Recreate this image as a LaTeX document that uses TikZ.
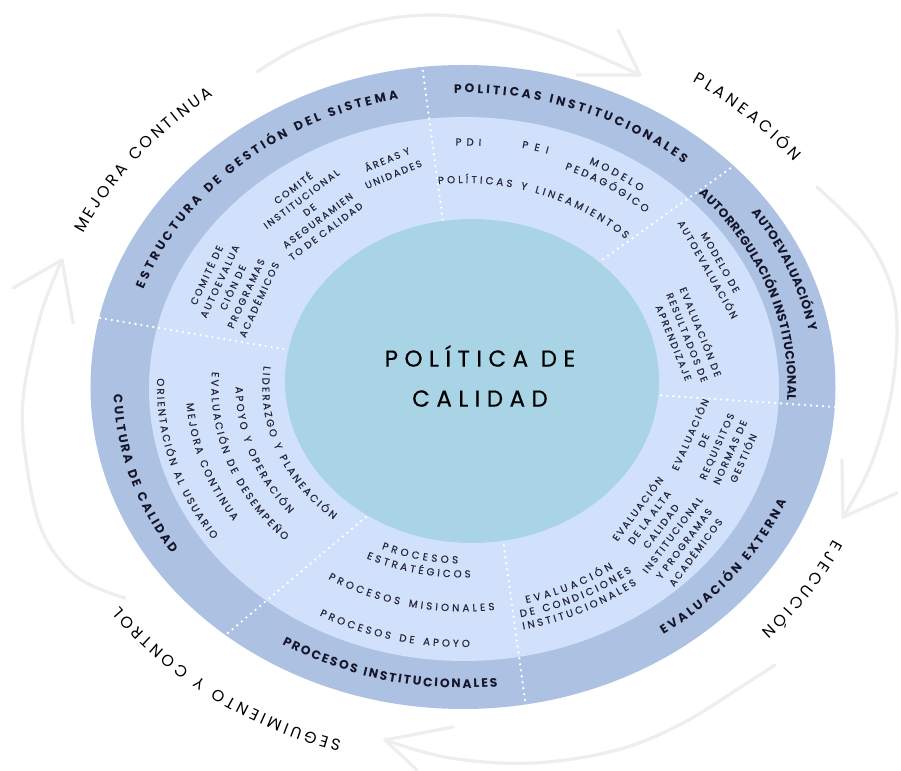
\documentclass[tikz,border=0pt]{standalone}
\usepackage{fontspec}
\setmainfont{Poppins}
\newfontfamily\innface{Poppins}[LetterSpace=20,FakeBold=0.3]
\newfontfamily\arcface{Poppins}[FakeBold=0.3]
\newfontfamily\titface{Poppins}[LetterSpace=28,FakeBold=0.4]
\newcommand\bandfont{\bfseries\fontsize{12.3}{14}\selectfont}
\newcommand\outfont{\fontsize{16}{18}\selectfont}
\newcommand\arcfont{\arcface\fontsize{10.2}{12}\selectfont}
\newcommand\innfont{\innface\fontsize{9.7}{14.5}\selectfont}
\newcommand\areasfont{\innface\fontsize{9.7}{16}\selectfont}
\newcommand\comitefont{\innface\fontsize{9.6}{13.5}\selectfont}
\newcommand\titfont{\titface\fontsize{23}{40}\selectfont}
\usetikzlibrary{decorations.text}
\definecolor{ringc}{HTML}{ADC1E3}
\definecolor{innerc}{HTML}{D1E1FB}
\definecolor{tealc}{HTML}{A8D4E5}
\definecolor{inkc}{HTML}{15152A}
\definecolor{inkb}{HTML}{262638}
\definecolor{arrc}{HTML}{EFEDED}
% text along an ellipse arc: baseline radius, start angle, end angle, font, colour, text
\newcommand\arctext[6]{%
  \path[decorate,decoration={text along path,text align={fit to path},text color=#5,text={|#4|#6}}]
    ({1.157*(#1)*cos(#2)},{(#1)*sin(#2)})
    arc[start angle={#2},end angle={#3},x radius={1.157*(#1)},y radius={#1}];}
\begin{document}
\begin{tikzpicture}[x=1pt,y=1pt,
  divline/.style={white,line width=2.6pt,line cap=round,dash pattern=on 0pt off 6pt},
  arrline/.style={arrc,line width=3.2pt,line cap=round,line join=round},
  blk/.style={font=\innfont,text=inkb,align=center,inner sep=0pt}]
\useasboundingbox (-463,-383) rectangle (438,387);
\fill[white] (-463,-383) rectangle (438,387);
% cycle arrows
\draw[arrline] plot[smooth,tension=0.6] coordinates {(-206,315) (-163,340) (-96,364) (-30,372) (37,364) (104,344) (177,312)};
\coordinate (tipT) at (177,312); \coordinate (bT1) at (155,357); \coordinate (bT2) at (114,312);
\draw[arrline] (bT1) -- (tipT) -- (bT2);
\draw[arrline] plot[smooth,tension=0.6] coordinates {(354,200) (400,154) (427,104) (434,54) (427,-13) (407,-80) (380,-130)};
\coordinate (tipR) at (380,-130); \coordinate (bR1) at (379,-73); \coordinate (bR2) at (434,-106);
\draw[arrline] (bR1) -- (tipR) -- (bR2);
\draw[arrline] plot[smooth,tension=0.6] coordinates {(312,-278) (284,-296) (220,-336) (154,-363) (70,-376) (-13,-371) (-78,-353)};
\coordinate (tipB) at (-78,-353); \coordinate (bB1) at (-10,-340); \coordinate (bB2) at (-46,-383);
\draw[arrline] (bB1) -- (tipB) -- (bB2);
\draw[arrline] plot[smooth,tension=0.6] coordinates {(-338,-211) (-386,-190) (-420,-146) (-436,-80) (-440,-13) (-423,70) (-401,127)};
\coordinate (tipL) at (-401,127); \coordinate (bL1) at (-450,99); \coordinate (bL2) at (-390,64);
\draw[arrline] (bL1) -- (tipL) -- (bL2);
% rings
\fill[ringc] (0,0) ellipse [x radius=372.5, y radius=322];
\fill[innerc] (1,-2) ellipse [x radius=315, y radius=272];
% dividers
\draw[divline] (-41,322) -- (-18,150);
\draw[divline] (272,222) -- (118,112);
\draw[divline] (372,-20) -- (178,-7);
\draw[divline] (62,-313) -- (38,-138);
\draw[divline] (-235,-246) -- (-78,-114);
\draw[divline] (-363,69) -- (-150,33);
% centre
\fill[tealc] (9,6) ellipse [x radius=187, y radius=162];
\node[font=\titfont,align=center,text=black,inner sep=0pt] (title) at (17,11) {POLÍTICA DE\\CALIDAD};
% outer labels
\arctext{362}{155}{126.5}{\outfont}{black}{MEJORA CONTINUA}
\arctext{364}{57}{38.2}{\outfont}{black}{PLANEACIÓN}
\arctext{355}{-25.5}{-43.5}{\outfont}{black}{EJECUCIÓN}
\arctext{369}{-106.5}{-143.5}{\outfont}{black}{SEGUIMIENTO Y CONTROL}
% band labels
\arctext{293}{160.5}{101}{\bandfont}{inkc}{ESTRUCTURA DE GESTIÓN DEL SISTEMA}
\arctext{294}{91.5}{49.5}{\bandfont}{inkc}{POLITICAS INSTITUCIONALES}
\arctext{304}{35}{10.5}{\bandfont}{inkc}{AUTOEVALUACIÓN Y}
\arctext{280.5}{43.5}{-2.8}{\bandfont}{inkc}{AUTORREGULACIÓN INSTITUCIONAL}
\arctext{302}{-55}{-22.3}{\bandfont}{inkc}{EVALUACIÓN EXTERNA}
\arctext{301}{-121.3}{-84.3}{\bandfont}{inkc}{PROCESOS INSTITUCIONALES}
\arctext{302}{181.5}{213.5}{\bandfont}{inkc}{CULTURA DE CALIDAD}
% inner arc texts
\arctext{204}{96}{46.5}{\arcfont}{inkb}{POLÍTICAS Y LINEAMIENTOS}
\arctext{241.5}{91.5}{86.3}{\arcfont}{inkb}{PDI}
\arctext{244.5}{78}{72.6}{\arcfont}{inkb}{PEI}
\arctext{248.5}{64}{51.8}{\arcfont}{inkb}{MODELO}
\arctext{235}{68}{47.8}{\arcfont}{inkb}{PEDAGÓGICO}
\arctext{176.5}{-113.5}{-91.4}{\arcfont}{inkb}{PROCESOS}
\arctext{190.5}{-116}{-88}{\arcfont}{inkb}{ESTRATÉGICOS}
\arctext{224.5}{-121.3}{-83}{\arcfont}{inkb}{PROCESOS MISIONALES}
\arctext{260}{-118.5}{-88.7}{\arcfont}{inkb}{PROCESOS DE APOYO}
\arctext{223}{-75.8}{-54.4}{\arcfont}{inkb}{EVALUACIÓN}
\arctext{235.5}{-77.8}{-51.7}{\arcfont}{inkb}{DE CONDICIONES}
\arctext{248}{-77.9}{-52.7}{\arcfont}{inkb}{INSTITUCIONALES}
\arctext{173.5}{173}{229.8}{\arcfont}{inkb}{LIDERAZGO Y PLANEACIÓN}
\arctext{196.5}{179.9}{220.2}{\arcfont}{inkb}{APOYO Y OPERACIÓN}
\arctext{217.5}{176}{224.9}{\arcfont}{inkb}{EVALUACIÓN DE DESEMPEÑO}
\arctext{239.5}{183.9}{214}{\arcfont}{inkb}{MEJORA CONTINUA}
\arctext{264.5}{178.1}{215.2}{\arcfont}{inkb}{ORIENTACIÓN AL USUARIO}
% inner blocks
\node[blk,rotate=22.5,font=\areasfont] (areas) at (-73,221) {ÁREAS Y\\UNIDADES};
\node[blk,rotate=37,font=\comitefont] (comite) at (-154,178) {COMITÉ\\INSTITUCIONAL\\DE\\ASEGURAMIEN\\TO DE CALIDAD};
\node[blk,rotate=65] (comauto) at (-231,100) {COMITÉ DE\\AUTOEVALUA\\CIÓN DE\\PROGRAMAS\\ACADÉMICOS};
\node[blk,rotate=-60.5] (modauto) at (251,121) {MODELO DE\\AUTOEVALUACIÓN};
\node[blk,rotate=-68] (evres) at (225,50) {EVALUACIÓN DE\\RESULTADOS DE\\APRENDIZAJE};
\node[blk,rotate=66] (evreq) at (253,-59) {EVALUACIÓN\\DE\\REQUISITOS\\NORMAS DE\\GESTIÓN};
\node[blk,rotate=53] (evalta) at (203,-143) {EVALUACIÓN\\DE LA ALTA\\CALIDAD\\INSTITUCIONAL\\Y PROGRAMAS\\ACADÉMICOS};
\end{tikzpicture}
\end{document}
